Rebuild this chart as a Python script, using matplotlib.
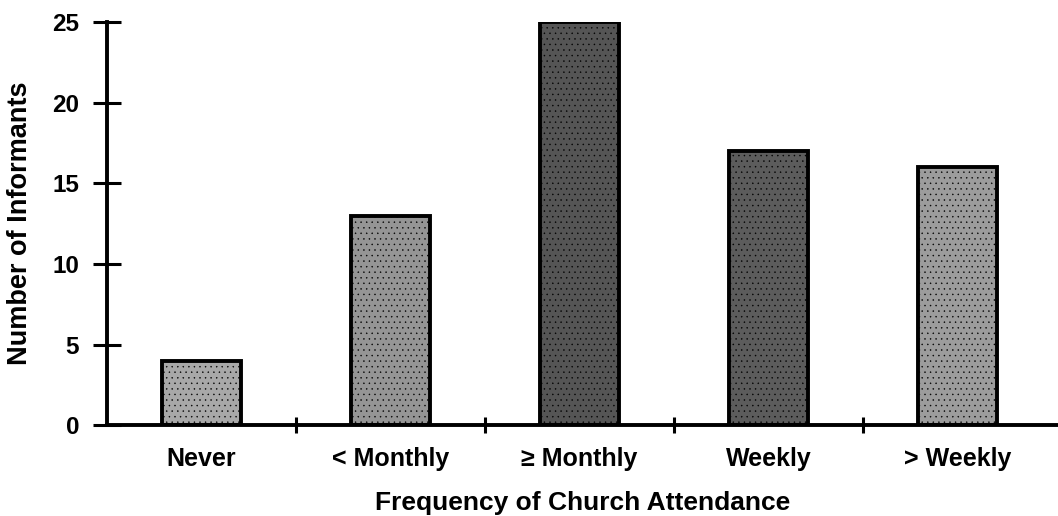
import matplotlib.pyplot as plt

# data
categories = ['Never', '< Monthly', '\u2265 Monthly', 'Weekly', '> Weekly']
informants = [4, 13, 25, 17, 16]
shades = ['#a8a8a8', '#959595', '#555555', '#5c5c5c', '#9c9c9c']

plt.rcParams['font.family'] = ['Liberation Sans', 'DejaVu Sans']
plt.rcParams['font.weight'] = 'bold'

fig = plt.figure(figsize=(10.58, 5.16), dpi=100)
ax = fig.add_axes([0.101, 0.176, 0.899, 0.781])

pos = list(range(len(categories)))
ax.bar(pos, informants, width=0.42, color=shades, edgecolor='black',
       linewidth=2.8, hatch='...', zorder=2)
# stipple dots come out in the edge colour, keep them faint
for b in ax.patches:
    b.set_hatch_linewidth(0.3)

ax.set_xlim(-0.5, 4.53)
ax.set_ylim(0, 25)
ax.set_yticks([0, 5, 10, 15, 20, 25])
ax.set_xticks(pos)
ax.set_xticklabels(categories, fontsize=18, fontweight='bold')
ax.set_xticks([0.5, 1.5, 2.5, 3.5], minor=True)
for t in ax.get_yticklabels():
    t.set_fontweight('bold')

for s in ['top', 'right']:
    ax.spines[s].set_visible(False)
ax.spines['left'].set_linewidth(2.8)
ax.spines['bottom'].set_linewidth(2.8)

ax.tick_params(axis='x', which='major', length=0, pad=16)
ax.tick_params(axis='x', which='minor', direction='inout', length=12, width=2.2)
ax.tick_params(axis='y', direction='inout', length=20, width=2.2, labelsize=17.5, pad=10)

ax.set_xlabel('Frequency of Church Attendance', fontsize=19, fontweight='bold', labelpad=14)
ax.set_ylabel('Number of Informants', fontsize=19.5, fontweight='bold', labelpad=14)

fig.savefig('out.png', dpi=100)
